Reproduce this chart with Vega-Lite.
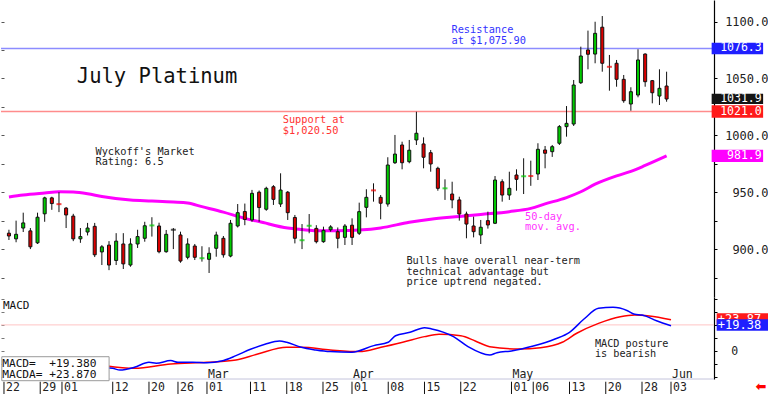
{
  "$schema": "https://vega.github.io/schema/vega-lite/v6.json",
  "padding": 0,
  "background": "white",
  "spacing": 0,
  "bounds": "flush",
  "config": {"view": {"stroke": null}, "axis": {"grid": false}},
  "datasets": {
    "ohlc": [
      {"d":"2024-01-22","i":0,"o":914,"h":917,"l":908,"c":911.5},
      {"d":"2024-01-23","i":1,"o":909,"h":925,"l":906,"c":913},
      {"d":"2024-01-24","i":2,"o":918.5,"h":932,"l":915,"c":923},
      {"d":"2024-01-25","i":3,"o":916,"h":918.5,"l":900,"c":902},
      {"d":"2024-01-26","i":4,"o":905.5,"h":932,"l":904.5,"c":928},
      {"d":"2024-01-29","i":5,"o":931,"h":946,"l":924,"c":945},
      {"d":"2024-01-30","i":6,"o":945,"h":946,"l":934.5,"c":940},
      {"d":"2024-01-31","i":7,"o":940,"h":950,"l":932.5,"c":939.5},
      {"d":"2024-02-01","i":8,"o":936,"h":937,"l":918.5,"c":930},
      {"d":"2024-02-02","i":9,"o":929,"h":931,"l":907,"c":909},
      {"d":"2024-02-05","i":10,"o":909,"h":918.5,"l":905.5,"c":911},
      {"d":"2024-02-06","i":11,"o":915,"h":923,"l":912,"c":918.5},
      {"d":"2024-02-07","i":12,"o":920,"h":923,"l":893,"c":895},
      {"d":"2024-02-08","i":13,"o":897.5,"h":903.5,"l":886,"c":902},
      {"d":"2024-02-09","i":14,"o":903.5,"h":907,"l":881.5,"c":886},
      {"d":"2024-02-12","i":15,"o":890,"h":914,"l":886,"c":907},
      {"d":"2024-02-13","i":16,"o":904.5,"h":914,"l":882.5,"c":887},
      {"d":"2024-02-14","i":17,"o":886,"h":909.5,"l":884.5,"c":904.5},
      {"d":"2024-02-15","i":18,"o":904.5,"h":917,"l":901,"c":911},
      {"d":"2024-02-16","i":19,"o":909.5,"h":924,"l":906.5,"c":920.5},
      {"d":"2024-02-20","i":20,"o":920.4,"h":928,"l":911,"c":920.8},
      {"d":"2024-02-21","i":21,"o":920.3,"h":923.2,"l":896.3,"c":897.7},
      {"d":"2024-02-22","i":22,"o":897.7,"h":916.8,"l":896.8,"c":913},
      {"d":"2024-02-23","i":23,"o":917,"h":918.5,"l":900,"c":917},
      {"d":"2024-02-26","i":24,"o":912.4,"h":915.3,"l":888,"c":889.5},
      {"d":"2024-02-27","i":25,"o":892.8,"h":909.5,"l":891,"c":904.5},
      {"d":"2024-02-28","i":26,"o":902.7,"h":904.5,"l":890.4,"c":892.8},
      {"d":"2024-02-29","i":27,"o":891.6,"h":902.5,"l":889,"c":892},
      {"d":"2024-03-01","i":28,"o":891,"h":901.6,"l":879,"c":896.3},
      {"d":"2024-03-04","i":29,"o":900.7,"h":915.3,"l":893.3,"c":912.4},
      {"d":"2024-03-05","i":30,"o":909.5,"h":911.5,"l":892.5,"c":895},
      {"d":"2024-03-06","i":31,"o":893.9,"h":925.6,"l":892.8,"c":922.7},
      {"d":"2024-03-07","i":32,"o":920.3,"h":939.6,"l":919,"c":932},
      {"d":"2024-03-08","i":33,"o":933,"h":940,"l":921,"c":926},
      {"d":"2024-03-11","i":34,"o":925.6,"h":952,"l":924,"c":949},
      {"d":"2024-03-12","i":35,"o":950,"h":951.5,"l":924,"c":936.5},
      {"d":"2024-03-13","i":36,"o":935,"h":954.8,"l":933.7,"c":953.4},
      {"d":"2024-03-14","i":37,"o":954.8,"h":956.2,"l":938.8,"c":943.7},
      {"d":"2024-03-15","i":38,"o":939.6,"h":966.6,"l":937,"c":951.9},
      {"d":"2024-03-18","i":39,"o":950,"h":951,"l":925.6,"c":932},
      {"d":"2024-03-19","i":40,"o":927.8,"h":930,"l":905,"c":909.5},
      {"d":"2024-03-20","i":41,"o":907.4,"h":922,"l":900,"c":907.8},
      {"d":"2024-03-21","i":42,"o":920.1,"h":930.8,"l":913.9,"c":920.5},
      {"d":"2024-03-22","i":43,"o":918.2,"h":921,"l":905,"c":906.5},
      {"d":"2024-03-25","i":44,"o":906.5,"h":919.7,"l":905.6,"c":916.5},
      {"d":"2024-03-26","i":45,"o":917,"h":921,"l":915.3,"c":919.5},
      {"d":"2024-03-27","i":46,"o":915.3,"h":919,"l":900.7,"c":909.5},
      {"d":"2024-03-28","i":47,"o":910.3,"h":922,"l":903.6,"c":920.3},
      {"d":"2024-04-01","i":48,"o":921,"h":927,"l":903.6,"c":910.3},
      {"d":"2024-04-02","i":49,"o":913.9,"h":940.8,"l":912.4,"c":932.9},
      {"d":"2024-04-03","i":50,"o":936.7,"h":952.6,"l":927.9,"c":945.5},
      {"d":"2024-04-04","i":51,"o":952.2,"h":957.8,"l":941.7,"c":951.6},
      {"d":"2024-04-05","i":52,"o":945.5,"h":947.5,"l":926.2,"c":940.3},
      {"d":"2024-04-08","i":53,"o":939.6,"h":980.7,"l":937.3,"c":973.9},
      {"d":"2024-04-09","i":54,"o":975.9,"h":1000.3,"l":974.8,"c":983.5},
      {"d":"2024-04-10","i":55,"o":991.5,"h":994.4,"l":970.1,"c":975.9},
      {"d":"2024-04-11","i":56,"o":976.8,"h":995.9,"l":975.4,"c":986.9},
      {"d":"2024-04-12","i":57,"o":995.9,"h":1020.7,"l":991.5,"c":1001.8},
      {"d":"2024-04-15","i":58,"o":992.4,"h":998.2,"l":971,"c":980.7},
      {"d":"2024-04-16","i":59,"o":984.7,"h":987.1,"l":968,"c":974.8},
      {"d":"2024-04-17","i":60,"o":971,"h":972.4,"l":951.3,"c":953.4},
      {"d":"2024-04-18","i":61,"o":953,"h":961.3,"l":943.2,"c":953.4},
      {"d":"2024-04-19","i":62,"o":948.4,"h":959.2,"l":935.9,"c":943.2},
      {"d":"2024-04-22","i":63,"o":943.2,"h":946,"l":925,"c":930.8},
      {"d":"2024-04-23","i":64,"o":930.8,"h":932.9,"l":909.5,"c":922},
      {"d":"2024-04-24","i":65,"o":920.3,"h":928.5,"l":910.3,"c":915.3},
      {"d":"2024-04-25","i":66,"o":912.4,"h":925.6,"l":904.5,"c":919.2},
      {"d":"2024-04-26","i":67,"o":925,"h":932.9,"l":918,"c":921.2},
      {"d":"2024-04-29","i":68,"o":922.7,"h":964.2,"l":922,"c":960.7},
      {"d":"2024-04-30","i":69,"o":959.2,"h":961.3,"l":941.7,"c":947.5},
      {"d":"2024-05-01","i":70,"o":947.5,"h":968,"l":943.2,"c":953.4},
      {"d":"2024-05-02","i":71,"o":965.1,"h":970.1,"l":951.3,"c":961.3},
      {"d":"2024-05-03","i":72,"o":963.6,"h":979.8,"l":948.4,"c":964},
      {"d":"2024-05-06","i":73,"o":964.6,"h":977.7,"l":955.6,"c":964.2},
      {"d":"2024-05-07","i":74,"o":966,"h":993,"l":960.7,"c":987.7},
      {"d":"2024-05-08","i":75,"o":987.1,"h":990.6,"l":971,"c":984.2},
      {"d":"2024-05-09","i":76,"o":985.6,"h":991.5,"l":981,"c":990},
      {"d":"2024-05-10","i":77,"o":993,"h":1009,"l":991.5,"c":1007.6},
      {"d":"2024-05-13","i":78,"o":1007.6,"h":1025.7,"l":998.8,"c":1010.5},
      {"d":"2024-05-14","i":79,"o":1009.9,"h":1048.6,"l":1008.2,"c":1044.2},
      {"d":"2024-05-15","i":80,"o":1046.2,"h":1077.9,"l":1045.1,"c":1069.7},
      {"d":"2024-05-16","i":81,"o":1075,"h":1092,"l":1058,"c":1071.2},
      {"d":"2024-05-17","i":82,"o":1071.4,"h":1099.8,"l":1063.3,"c":1089.6},
      {"d":"2024-05-20","i":83,"o":1095,"h":1104.8,"l":1055.9,"c":1063.3},
      {"d":"2024-05-21","i":84,"o":1060.5,"h":1070.6,"l":1039.2,"c":1060.2},
      {"d":"2024-05-22","i":85,"o":1063.3,"h":1066.2,"l":1042.7,"c":1049.2},
      {"d":"2024-05-23","i":86,"o":1049.2,"h":1053,"l":1028.6,"c":1030.4},
      {"d":"2024-05-24","i":87,"o":1027.5,"h":1042.2,"l":1021.6,"c":1038.3},
      {"d":"2024-05-28","i":88,"o":1035.4,"h":1075.6,"l":1033.4,"c":1066.2},
      {"d":"2024-05-29","i":89,"o":1071.4,"h":1072,"l":1042.7,"c":1047.1},
      {"d":"2024-05-30","i":90,"o":1048,"h":1048.6,"l":1028.1,"c":1037.4},
      {"d":"2024-05-31","i":91,"o":1034.5,"h":1058,"l":1026.6,"c":1041.3},
      {"d":"2024-06-03","i":92,"o":1043.3,"h":1055.9,"l":1029.5,"c":1031.9}
    ],
    "ma": [
      {"i":0,"v":945.8},{"i":2,"v":947.5},{"i":5,"v":949.3},{"i":7,"v":950.4},{"i":9,"v":950.1},
      {"i":11,"v":948.6},{"i":13,"v":946.2},{"i":17,"v":943.1},{"i":20,"v":942.3},{"i":23,"v":941.4},
      {"i":25,"v":940.5},{"i":27,"v":937.3},{"i":30,"v":932.5},{"i":33,"v":927.0},{"i":35,"v":924.2},
      {"i":39,"v":918.5},{"i":41,"v":917.2},{"i":43,"v":916.2},{"i":46,"v":916.2},{"i":49,"v":916.8},
      {"i":52,"v":918.6},{"i":56,"v":923.6},{"i":59,"v":926.3},{"i":63,"v":928.7},{"i":66,"v":930.5},
      {"i":70,"v":932.9},{"i":73,"v":935.8},{"i":75,"v":939.7},{"i":78,"v":945.3},{"i":80,"v":950.4},
      {"i":82,"v":957.0},{"i":85,"v":964.3},{"i":87,"v":968.3},{"i":89,"v":973.5},{"i":92,"v":981.9}
    ],
    "macd": [
      {"s":"MACDA","i":14,"v":-11.3},{"s":"MACDA","i":18,"v":-13.3},{"s":"MACDA","i":23,"v":-10.0},
      {"s":"MACDA","i":28,"v":-8.7},{"s":"MACDA","i":32,"v":-6.9},{"s":"MACDA","i":35,"v":-2.3},
      {"s":"MACDA","i":39,"v":2.8},{"s":"MACDA","i":41,"v":2.8},{"s":"MACDA","i":45,"v":0.8},
      {"s":"MACDA","i":49,"v":-0.5},{"s":"MACDA","i":52,"v":2.8},{"s":"MACDA","i":55,"v":6.7},
      {"s":"MACDA","i":58,"v":11.0},{"s":"MACDA","i":60,"v":12.8},{"s":"MACDA","i":63,"v":11.7},
      {"s":"MACDA","i":65,"v":7.7},{"s":"MACDA","i":67,"v":3.3},{"s":"MACDA","i":71,"v":1.5},
      {"s":"MACDA","i":74,"v":2.5},{"s":"MACDA","i":77,"v":6.7},{"s":"MACDA","i":79,"v":13.6},
      {"s":"MACDA","i":82,"v":21.2},{"s":"MACDA","i":85,"v":26.3},{"s":"MACDA","i":87,"v":27.6},
      {"s":"MACDA","i":89,"v":26.8},{"s":"MACDA","i":92,"v":23.87},
      {"s":"MACD","i":14,"v":-12.8},{"s":"MACD","i":15,"v":-13.3},{"s":"MACD","i":16,"v":-14.6},
      {"s":"MACD","i":18,"v":-12.5},{"s":"MACD","i":20,"v":-8.7},{"s":"MACD","i":21,"v":-9.4},
      {"s":"MACD","i":23,"v":-7.4},{"s":"MACD","i":24,"v":-8.7},{"s":"MACD","i":26,"v":-8.7},
      {"s":"MACD","i":28,"v":-9.0},{"s":"MACD","i":30,"v":-7.7},{"s":"MACD","i":32,"v":-3.6},
      {"s":"MACD","i":34,"v":1.3},{"s":"MACD","i":36,"v":5.1},{"s":"MACD","i":38,"v":7.7},
      {"s":"MACD","i":39,"v":6.7},{"s":"MACD","i":41,"v":2.8},{"s":"MACD","i":43,"v":0.8},
      {"s":"MACD","i":45,"v":-0.5},{"s":"MACD","i":48,"v":-1.0},{"s":"MACD","i":51,"v":4.1},
      {"s":"MACD","i":53,"v":6.7},{"s":"MACD","i":54,"v":11.7},{"s":"MACD","i":56,"v":14.3},
      {"s":"MACD","i":58,"v":17.9},{"s":"MACD","i":59,"v":16.9},{"s":"MACD","i":62,"v":11.0},
      {"s":"MACD","i":64,"v":3.3},{"s":"MACD","i":67,"v":-3.1},{"s":"MACD","i":68,"v":-1.3},
      {"s":"MACD","i":70,"v":0.0},{"s":"MACD","i":73,"v":3.8},{"s":"MACD","i":76,"v":9.2},
      {"s":"MACD","i":78,"v":14.3},{"s":"MACD","i":80,"v":24.5},{"s":"MACD","i":82,"v":32.7},
      {"s":"MACD","i":84,"v":33.5},{"s":"MACD","i":86,"v":30.9},{"s":"MACD","i":87,"v":28.1},
      {"s":"MACD","i":88,"v":27.6},{"s":"MACD","i":90,"v":23.2},{"s":"MACD","i":92,"v":19.38}
    ],
    "months": [
      {"m":"Mar","i":28},{"m":"Apr","i":48},{"m":"May","i":70},{"m":"Jun","i":92}
    ],
    "dates": [
      {"d":"2024-01-22","lab":"22","i":0},{"d":"2024-01-29","lab":"29","i":5},{"d":"2024-02-01","lab":"01","i":8},
      {"d":"2024-02-12","lab":"12","i":15},{"d":"2024-02-20","lab":"20","i":20},{"d":"2024-02-26","lab":"26","i":24},
      {"d":"2024-03-01","lab":"01","i":28},{"d":"2024-03-11","lab":"11","i":34},{"d":"2024-03-18","lab":"18","i":39},
      {"d":"2024-03-25","lab":"25","i":44},{"d":"2024-04-01","lab":"01","i":48},{"d":"2024-04-08","lab":"08","i":53},
      {"d":"2024-04-15","lab":"15","i":58},{"d":"2024-04-22","lab":"22","i":63},{"d":"2024-05-01","lab":"01","i":70},
      {"d":"2024-05-06","lab":"06","i":73},{"d":"2024-05-13","lab":"13","i":78},{"d":"2024-05-20","lab":"20","i":83},
      {"d":"2024-05-28","lab":"28","i":88},{"d":"2024-06-03","lab":"03","i":92}
    ]
  },
  "vconcat": [
    {
      "width": 713,
      "height": 297,
      "resolve": {"axis": {"y": "independent"}},
      "layer": [
        {
          "data": {"values": [{}]},
          "mark": {"type": "rule", "color": "#8c8cff", "strokeWidth": 1.5},
          "encoding": {
            "y": {"datum": 1076.3, "type": "quantitative", "scale": {"domain": [857.9, 1118.9], "nice": false, "zero": false},
              "axis": {"orient": "left", "offset": -3, "values": [875,900,925,950,975,1000,1025,1050,1075,1100], "labels": false, "domain": false, "ticks": true, "tickSize": 3, "tickColor": "#555555", "grid": false, "title": null}}
          }
        },
        {
          "data": {"values": [{}]},
          "mark": {"type": "rule", "color": "#ff8c8c", "strokeWidth": 1.5},
          "encoding": {
            "y": {"datum": 1021.0, "type": "quantitative", "scale": {"domain": [857.9, 1118.9], "nice": false, "zero": false}, "axis": null}
          }
        },
        {
          "data": {"name": "ma"},
          "mark": {"type": "line", "color": "#ff00ff", "strokeWidth": 3, "interpolate": "monotone"},
          "encoding": {
            "x": {"field": "i", "type": "quantitative", "scale": {"domain": [-0.41, 97.93], "nice": false, "zero": false}, "axis": null},
            "y": {"field": "v", "type": "quantitative", "scale": {"domain": [857.9, 1118.9], "nice": false, "zero": false}, "axis": null}
          }
        },
        {
          "data": {"name": "ohlc"},
          "mark": {"type": "rule", "color": "#111111", "strokeWidth": 1},
          "encoding": {
            "x": {"field": "i", "type": "quantitative", "scale": {"domain": [-0.41, 97.93], "nice": false, "zero": false},
              "axis": {"orient": "bottom", "domain": true, "domainColor": "#000000", "domainWidth": 2, "ticks": false, "labels": false, "grid": false, "title": null}},
            "y": {"field": "l", "type": "quantitative", "scale": {"domain": [857.9, 1118.9], "nice": false, "zero": false},
              "axis": {"orient": "right", "values": [875,900,925,950,975,1000,1025,1050,1075,1100], "labelExpr": "datum.value % 50 === 0 ? format(datum.value, '.1f') : ''", "tickSize": 3, "tickColor": "#000000", "domainColor": "#000000", "domainWidth": 1.2, "labelFont": "DejaVu Sans Mono", "labelFontSize": 12, "labelColor": "#222222", "labelAlign": "right", "labelBaseline": "middle", "labelPadding": 51, "grid": false, "title": null}},
            "y2": {"field": "h"}
          }
        },
        {
          "data": {"name": "ohlc"},
          "transform": [{"filter": "abs(datum.c - datum.o) >= 1"}],
          "mark": {"type": "bar", "size": 3, "stroke": "#111111", "strokeWidth": 1},
          "encoding": {
            "x": {"field": "i", "type": "quantitative", "scale": {"domain": [-0.41, 97.93], "nice": false, "zero": false}, "axis": null},
            "y": {"field": "o", "type": "quantitative", "scale": {"domain": [857.9, 1118.9], "nice": false, "zero": false}, "axis": null},
            "y2": {"field": "c"},
            "fill": {"condition": {"test": "datum.c > datum.o", "value": "#00cc00"}, "value": "#dd0000"}
          }
        },
        {
          "data": {"name": "ohlc"},
          "transform": [{"filter": "abs(datum.c - datum.o) < 1"}],
          "mark": {"type": "tick", "orient": "horizontal", "size": 5, "thickness": 2},
          "encoding": {
            "x": {"field": "i", "type": "quantitative", "scale": {"domain": [-0.41, 97.93], "nice": false, "zero": false}, "axis": null},
            "y": {"field": "c", "type": "quantitative", "scale": {"domain": [857.9, 1118.9], "nice": false, "zero": false}, "axis": null},
            "color": {"condition": [{"test": "datum.c > datum.o", "value": "#00cc00"}, {"test": "datum.c < datum.o", "value": "#ee0000"}], "value": "#111111"}
          }
        },
        {
          "data": {"values": [{}]},
          "mark": {"type": "text", "font": "DejaVu Sans Mono", "fontSize": 20.5, "color": "#111111", "align": "left", "baseline": "alphabetic"},
          "encoding": {
            "x": {"datum": 9.5, "type": "quantitative", "scale": {"domain": [-0.41, 97.93], "nice": false, "zero": false}, "axis": null},
            "y": {"datum": 1046, "type": "quantitative", "scale": {"domain": [857.9, 1118.9], "nice": false, "zero": false}, "axis": null},
            "text": {"value": "July Platinum"}
          }
        },
        {
          "data": {"values": [{}]},
          "mark": {"type": "text", "font": "DejaVu Sans Mono", "fontSize": 10.3, "color": "#3333ff", "align": "left", "baseline": "top", "lineBreak": "\n", "lineHeight": 10.7},
          "encoding": {
            "x": {"datum": 61.9, "type": "quantitative", "scale": {"domain": [-0.41, 97.93], "nice": false, "zero": false}, "axis": null},
            "y": {"datum": 1096.9, "type": "quantitative", "scale": {"domain": [857.9, 1118.9], "nice": false, "zero": false}, "axis": null},
            "text": {"value": "Resistance\nat $1,075.90"}
          }
        },
        {
          "data": {"values": [{}]},
          "mark": {"type": "text", "font": "DejaVu Sans Mono", "fontSize": 10.3, "color": "#ff3333", "align": "left", "baseline": "top", "lineBreak": "\n", "lineHeight": 10.7},
          "encoding": {
            "x": {"datum": 38.3, "type": "quantitative", "scale": {"domain": [-0.41, 97.93], "nice": false, "zero": false}, "axis": null},
            "y": {"datum": 1017.8, "type": "quantitative", "scale": {"domain": [857.9, 1118.9], "nice": false, "zero": false}, "axis": null},
            "text": {"value": "Support at\n$1,020.50"}
          }
        },
        {
          "data": {"values": [{}]},
          "mark": {"type": "text", "font": "DejaVu Sans Mono", "fontSize": 10.3, "color": "#222222", "align": "left", "baseline": "top", "lineBreak": "\n", "lineHeight": 10.7},
          "encoding": {
            "x": {"datum": 12.1, "type": "quantitative", "scale": {"domain": [-0.41, 97.93], "nice": false, "zero": false}, "axis": null},
            "y": {"datum": 990, "type": "quantitative", "scale": {"domain": [857.9, 1118.9], "nice": false, "zero": false}, "axis": null},
            "text": {"value": "Wyckoff's Market\nRating: 6.5"}
          }
        },
        {
          "data": {"values": [{}]},
          "mark": {"type": "text", "font": "DejaVu Sans Mono", "fontSize": 10.3, "color": "#ff33ff", "align": "left", "baseline": "top", "lineBreak": "\n", "lineHeight": 10.7},
          "encoding": {
            "x": {"datum": 72.2, "type": "quantitative", "scale": {"domain": [-0.41, 97.93], "nice": false, "zero": false}, "axis": null},
            "y": {"datum": 932.9, "type": "quantitative", "scale": {"domain": [857.9, 1118.9], "nice": false, "zero": false}, "axis": null},
            "text": {"value": "50-day\nmov. avg."}
          }
        },
        {
          "data": {"values": [{}]},
          "mark": {"type": "text", "font": "DejaVu Sans Mono", "fontSize": 10.3, "color": "#222222", "align": "left", "baseline": "top", "lineBreak": "\n", "lineHeight": 10.5},
          "encoding": {
            "x": {"datum": 55.6, "type": "quantitative", "scale": {"domain": [-0.41, 97.93], "nice": false, "zero": false}, "axis": null},
            "y": {"datum": 893.9, "type": "quantitative", "scale": {"domain": [857.9, 1118.9], "nice": false, "zero": false}, "axis": null},
            "text": {"value": "Bulls have overall near-term\ntechnical advantage but\nprice uptrend negated."}
          }
        },
        {
          "data": {"values": [{}]},
          "mark": {"type": "rect", "fill": "#1f1fff"},
          "encoding": {
            "x": {"datum": 98.3, "type": "quantitative", "scale": {"domain": [-0.41, 97.93], "nice": false, "zero": false}, "axis": null},
            "x2": {"datum": 105.5},
            "y": {"datum": 1071.3, "type": "quantitative", "scale": {"domain": [857.9, 1118.9], "nice": false, "zero": false}, "axis": null},
            "y2": {"datum": 1081.3}
          }
        },
        {
          "data": {"values": [{}]},
          "mark": {"type": "rect", "fill": "#141414"},
          "encoding": {
            "x": {"datum": 98.3, "type": "quantitative", "scale": {"domain": [-0.41, 97.93], "nice": false, "zero": false}, "axis": null},
            "x2": {"datum": 105.5},
            "y": {"datum": 1027.6, "type": "quantitative", "scale": {"domain": [857.9, 1118.9], "nice": false, "zero": false}, "axis": null},
            "y2": {"datum": 1036.6}
          }
        },
        {
          "data": {"values": [{}]},
          "mark": {"type": "rect", "fill": "#ff1a1a"},
          "encoding": {
            "x": {"datum": 98.3, "type": "quantitative", "scale": {"domain": [-0.41, 97.93], "nice": false, "zero": false}, "axis": null},
            "x2": {"datum": 105.5},
            "y": {"datum": 1015.4, "type": "quantitative", "scale": {"domain": [857.9, 1118.9], "nice": false, "zero": false}, "axis": null},
            "y2": {"datum": 1026.3}
          }
        },
        {
          "data": {"values": [{}]},
          "mark": {"type": "rect", "fill": "#ff00ff"},
          "encoding": {
            "x": {"datum": 98.3, "type": "quantitative", "scale": {"domain": [-0.41, 97.93], "nice": false, "zero": false}, "axis": null},
            "x2": {"datum": 105.5},
            "y": {"datum": 976.6, "type": "quantitative", "scale": {"domain": [857.9, 1118.9], "nice": false, "zero": false}, "axis": null},
            "y2": {"datum": 987.2}
          }
        },
        {
          "data": {"values": [{"t": "1076.3", "v": 1076.3}, {"t": "1031.9", "v": 1032.1}, {"t": "1021.0", "v": 1020.8}, {"t": "981.9", "v": 981.9}]},
          "mark": {"type": "text", "font": "DejaVu Sans Mono", "fontSize": 11.5, "color": "#ffffff", "align": "right", "baseline": "middle"},
          "encoding": {
            "x": {"datum": 105.3, "type": "quantitative", "scale": {"domain": [-0.41, 97.93], "nice": false, "zero": false}, "axis": null},
            "y": {"field": "v", "type": "quantitative", "scale": {"domain": [857.9, 1118.9], "nice": false, "zero": false}, "axis": null},
            "text": {"field": "t"}
          }
        }
      ]
    },
    {
      "width": 713,
      "height": 82,
      "resolve": {"axis": {"y": "independent"}},
      "layer": [
        {
          "data": {"values": [{}]},
          "mark": {"type": "rule", "color": "#ffc4c4", "strokeWidth": 1},
          "encoding": {
            "y": {"datum": 20, "type": "quantitative", "scale": {"domain": [-21.5, 41.4], "nice": false, "zero": false},
              "axis": {"orient": "left", "offset": -3, "values": [-20,-10,0,10,20,30,40], "labels": false, "domain": false, "ticks": true, "tickSize": 3, "tickColor": "#777777", "grid": false, "title": null}}
          }
        },
        {
          "data": {"values": [{}]},
          "mark": {"type": "rule", "color": "#c4c4dc", "strokeWidth": 1},
          "encoding": {
            "y": {"datum": -21.5, "type": "quantitative", "scale": {"domain": [-21.5, 41.4], "nice": false, "zero": false}, "axis": null}
          }
        },
        {
          "data": {"name": "macd"},
          "mark": {"type": "line", "strokeWidth": 1.5, "interpolate": "monotone"},
          "encoding": {
            "x": {"field": "i", "type": "quantitative", "scale": {"domain": [-0.41, 97.93], "nice": false, "zero": false}, "axis": null},
            "y": {"field": "v", "type": "quantitative", "scale": {"domain": [-21.5, 41.4], "nice": false, "zero": false},
              "axis": {"orient": "right", "values": [-20,-10,0,10,20,30,40], "labels": false, "tickSize": 3, "tickColor": "#000000", "domainColor": "#000000", "domainWidth": 1.2, "grid": false, "title": null}},
            "color": {"field": "s", "type": "nominal", "scale": {"domain": ["MACD", "MACDA"], "range": ["#0000ff", "#ff0000"]}, "legend": null}
          }
        },
        {
          "data": {"name": "dates"},
          "mark": {"type": "rule", "color": "#111111", "strokeWidth": 1},
          "encoding": {
            "x": {"field": "i", "type": "quantitative", "scale": {"domain": [-0.41, 97.93], "nice": false, "zero": false}, "axis": null},
            "y": {"datum": -23.6, "type": "quantitative", "scale": {"domain": [-21.5, 41.4], "nice": false, "zero": false}, "axis": null},
            "y2": {"datum": -33.0}
          }
        },
        {
          "data": {"name": "dates"},
          "mark": {"type": "text", "font": "DejaVu Sans Mono", "fontSize": 11.5, "color": "#222222", "align": "left", "baseline": "middle", "dx": 2},
          "encoding": {
            "x": {"field": "i", "type": "quantitative", "scale": {"domain": [-0.41, 97.93], "nice": false, "zero": false}, "axis": null},
            "y": {"datum": -28.4, "type": "quantitative", "scale": {"domain": [-21.5, 41.4], "nice": false, "zero": false}, "axis": null},
            "text": {"field": "lab"}
          }
        },
        {
          "data": {"values": [{}]},
          "mark": {"type": "rect", "fill": "#ffffff", "stroke": "#9a9a9a", "strokeWidth": 1},
          "encoding": {
            "x": {"datum": -0.3, "type": "quantitative", "scale": {"domain": [-0.41, 97.93], "nice": false, "zero": false}, "axis": null},
            "x2": {"datum": 14.5},
            "y": {"datum": -4.4, "type": "quantitative", "scale": {"domain": [-21.5, 41.4], "nice": false, "zero": false}, "axis": null},
            "y2": {"datum": -22.8}
          }
        },
        {
          "data": {"values": [{}]},
          "mark": {"type": "text", "font": "DejaVu Sans Mono", "fontSize": 11.2, "color": "#111111", "align": "left", "baseline": "top", "lineBreak": "\n", "lineHeight": 11},
          "encoding": {
            "x": {"datum": -0.25, "type": "quantitative", "scale": {"domain": [-0.41, 97.93], "nice": false, "zero": false}, "axis": null},
            "y": {"datum": -5.6, "type": "quantitative", "scale": {"domain": [-21.5, 41.4], "nice": false, "zero": false}, "axis": null},
            "text": {"value": "MACD=\u00a0\u00a0+19.380\nMACDA=\u00a0+23.870"}
          }
        },
        {
          "data": {"values": [{}]},
          "mark": {"type": "text", "font": "DejaVu Sans Mono", "fontSize": 11, "color": "#111111", "align": "left", "baseline": "top"},
          "encoding": {
            "x": {"datum": -0.15, "type": "quantitative", "scale": {"domain": [-0.41, 97.93], "nice": false, "zero": false}, "axis": null},
            "y": {"datum": 39, "type": "quantitative", "scale": {"domain": [-21.5, 41.4], "nice": false, "zero": false}, "axis": null},
            "text": {"value": "MACD"}
          }
        },
        {
          "data": {"values": [{}]},
          "mark": {"type": "text", "font": "DejaVu Sans Mono", "fontSize": 10.2, "color": "#222222", "align": "left", "baseline": "top", "lineBreak": "\n", "lineHeight": 10.2},
          "encoding": {
            "x": {"datum": 81.5, "type": "quantitative", "scale": {"domain": [-0.41, 97.93], "nice": false, "zero": false}, "axis": null},
            "y": {"datum": 9.4, "type": "quantitative", "scale": {"domain": [-21.5, 41.4], "nice": false, "zero": false}, "axis": null},
            "text": {"value": "MACD posture\nis bearish"}
          }
        },
        {
          "data": {"name": "months"},
          "mark": {"type": "text", "font": "DejaVu Sans Mono", "fontSize": 11.5, "color": "#222222", "align": "left", "baseline": "alphabetic", "dx": 1},
          "encoding": {
            "x": {"field": "i", "type": "quantitative", "scale": {"domain": [-0.41, 97.93], "nice": false, "zero": false}, "axis": null},
            "y": {"datum": -21.0, "type": "quantitative", "scale": {"domain": [-21.5, 41.4], "nice": false, "zero": false}, "axis": null},
            "text": {"field": "m"}
          }
        },
        {
          "data": {"values": [{}]},
          "mark": {"type": "text", "font": "DejaVu Sans Mono", "fontSize": 11.5, "color": "#222222", "align": "center", "baseline": "middle"},
          "encoding": {
            "x": {"datum": 100.8, "type": "quantitative", "scale": {"domain": [-0.41, 97.93], "nice": false, "zero": false}, "axis": null},
            "y": {"datum": -0.8, "type": "quantitative", "scale": {"domain": [-21.5, 41.4], "nice": false, "zero": false}, "axis": null},
            "text": {"value": "0"}
          }
        },
        {
          "data": {"values": [{}]},
          "mark": {"type": "rect", "fill": "#ff1a1a"},
          "encoding": {
            "x": {"datum": 98.3, "type": "quantitative", "scale": {"domain": [-0.41, 97.93], "nice": false, "zero": false}, "axis": null},
            "x2": {"datum": 105.5},
            "y": {"datum": 20.0, "type": "quantitative", "scale": {"domain": [-21.5, 41.4], "nice": false, "zero": false}, "axis": null},
            "y2": {"datum": 28.9}
          }
        },
        {
          "data": {"values": [{}]},
          "mark": {"type": "text", "font": "DejaVu Sans Mono", "fontSize": 12, "color": "#ffffff", "align": "left", "baseline": "middle"},
          "encoding": {
            "x": {"datum": 98.45, "type": "quantitative", "scale": {"domain": [-0.41, 97.93], "nice": false, "zero": false}, "axis": null},
            "y": {"datum": 24.4, "type": "quantitative", "scale": {"domain": [-21.5, 41.4], "nice": false, "zero": false}, "axis": null},
            "text": {"value": "+23.87"}
          }
        },
        {
          "data": {"values": [{}]},
          "mark": {"type": "rect", "fill": "#1f1fff"},
          "encoding": {
            "x": {"datum": 98.3, "type": "quantitative", "scale": {"domain": [-0.41, 97.93], "nice": false, "zero": false}, "axis": null},
            "x2": {"datum": 105.5},
            "y": {"datum": 15.6, "type": "quantitative", "scale": {"domain": [-21.5, 41.4], "nice": false, "zero": false}, "axis": null},
            "y2": {"datum": 24.3}
          }
        },
        {
          "data": {"values": [{}]},
          "mark": {"type": "text", "font": "DejaVu Sans Mono", "fontSize": 12, "color": "#ffffff", "align": "left", "baseline": "middle"},
          "encoding": {
            "x": {"datum": 98.45, "type": "quantitative", "scale": {"domain": [-0.41, 97.93], "nice": false, "zero": false}, "axis": null},
            "y": {"datum": 19.95, "type": "quantitative", "scale": {"domain": [-21.5, 41.4], "nice": false, "zero": false}, "axis": null},
            "text": {"value": "+19.38"}
          }
        },
        {
          "data": {"values": [{}]},
          "mark": {"type": "text", "font": "DejaVu Sans", "fontSize": 13, "fontWeight": "bold", "color": "#ff0000", "align": "center", "baseline": "middle"},
          "encoding": {
            "x": {"datum": 104.4, "type": "quantitative", "scale": {"domain": [-0.41, 97.93], "nice": false, "zero": false}, "axis": null},
            "y": {"datum": -27.6, "type": "quantitative", "scale": {"domain": [-21.5, 41.4], "nice": false, "zero": false}, "axis": null},
            "text": {"value": "⬅"}
          }
        }
      ]
    }
  ]
}
